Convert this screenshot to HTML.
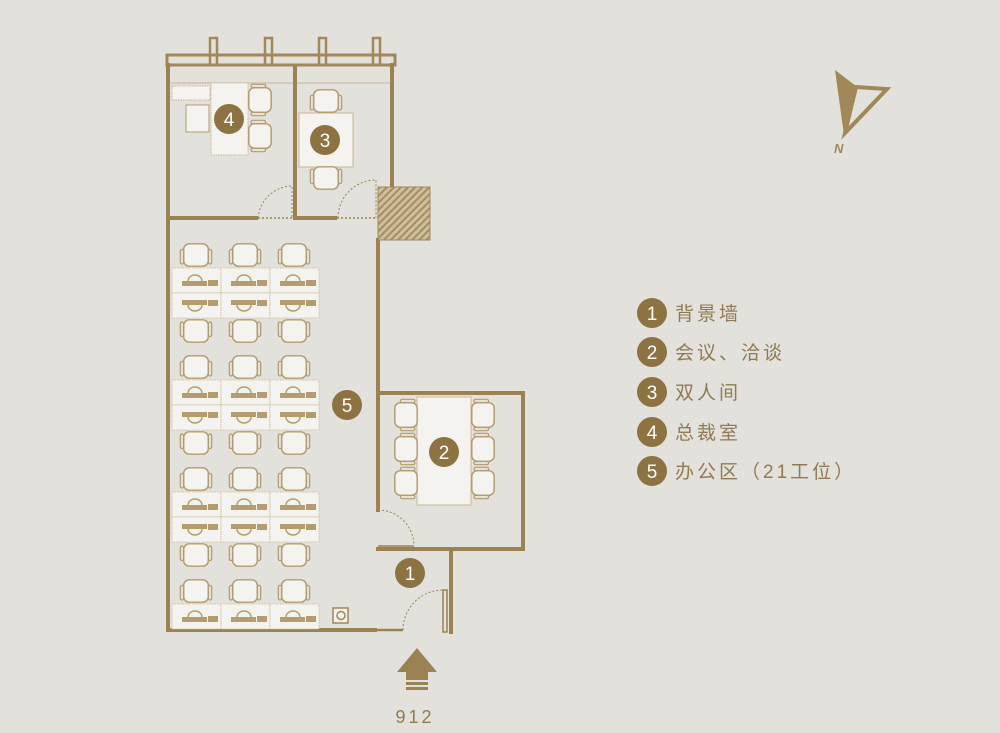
<!DOCTYPE html>
<html><head><meta charset="utf-8"><style>
body{margin:0;background:#e3e1dc;}
svg{display:block}
.t{font-family:"Liberation Sans","Noto Sans CJK SC",sans-serif;}
</style></head><body>
<svg width="1000" height="733" viewBox="0 0 1000 733" xmlns="http://www.w3.org/2000/svg">
<defs>
<g id="ch0">
<rect x="-11" y="-10" width="22" height="20" rx="5" fill="#f4f3f0" stroke="#b49c6e" stroke-width="1.3"/>
<rect x="-14" y="-5" width="3" height="13" rx="1.5" fill="none" stroke="#b49c6e" stroke-width="1.1"/>
<rect x="11" y="-5" width="3" height="13" rx="1.5" fill="none" stroke="#b49c6e" stroke-width="1.1"/>
</g>
<g id="ch"><use href="#ch0" transform="scale(1.12)"/></g>
<g id="dk">
<rect x="0" y="0" width="49" height="25" fill="#f4f3f0" stroke="#c9b890" stroke-width="0.8" stroke-dasharray="1.5 1"/>
<rect x="10" y="13" width="25" height="5" fill="#b49c6e"/>
<path d="M16 13 a7 6 0 0 1 14 0" fill="none" stroke="#b49c6e" stroke-width="1.5"/>
<rect x="36" y="12" width="10" height="6" fill="#b49c6e"/>
</g>
<g id="dk2">
<rect x="0" y="0" width="49" height="25" fill="#f4f3f0" stroke="#c9b890" stroke-width="0.8" stroke-dasharray="1.5 1"/>
<rect x="10" y="7" width="25" height="5" fill="#b49c6e"/>
<path d="M16 12 a7 6 0 0 0 14 0" fill="none" stroke="#b49c6e" stroke-width="1.5"/>
<rect x="36" y="7" width="10" height="6" fill="#b49c6e"/>
</g>
<pattern id="hat" width="5" height="5" patternUnits="userSpaceOnUse" patternTransform="rotate(45)">
<rect width="5" height="5" fill="#cdbf9f"/><rect width="2" height="5" fill="#a88d5c"/>
</pattern>
</defs>

<g fill="none" stroke="#a08858">
<rect x="167" y="55" width="228" height="10" stroke-width="3" fill="#e3e1dc"/>
<rect x="210" y="38" width="7" height="27" stroke-width="2.5"/>
<rect x="265" y="38" width="7" height="27" stroke-width="2.5"/>
<rect x="319" y="38" width="7" height="27" stroke-width="2.5"/>
<rect x="373" y="38" width="7" height="27" stroke-width="2.5"/>
<line x1="170" y1="83" x2="392" y2="83" stroke-width="1" stroke="#c9b890"/>
</g>
<g stroke="#9b8253" stroke-width="4" fill="none" stroke-linecap="square">
<line x1="168" y1="65" x2="168" y2="630"/>
<line x1="168" y1="630" x2="375" y2="630"/>
<line x1="392" y1="65" x2="392" y2="186"/>
<line x1="295" y1="67" x2="295" y2="218"/>
<line x1="168" y1="218" x2="256" y2="218"/>
<line x1="295" y1="218" x2="335" y2="218"/>
<line x1="378" y1="240" x2="378" y2="393"/>
<line x1="378" y1="393" x2="523" y2="393"/>
<line x1="523" y1="393" x2="523" y2="549"/>
<line x1="378" y1="549" x2="523" y2="549"/>
<line x1="378" y1="393" x2="378" y2="510"/>
<line x1="451" y1="549" x2="451" y2="632"/>
</g>
<g stroke="#9b8253" fill="none">
<line x1="375" y1="630" x2="403" y2="630" stroke-width="2.5"/>
<line x1="258" y1="218" x2="292" y2="218" stroke-width="1.5" stroke-dasharray="2 2"/>
<path d="M258 218 A35 35 0 0 1 292 186 L292 218" stroke-width="1" stroke-dasharray="2 2"/>
<line x1="337" y1="218" x2="376" y2="218" stroke-width="1.5" stroke-dasharray="2 2"/>
<path d="M338 218 A38 38 0 0 1 376 180 L376 218" stroke-width="1" stroke-dasharray="2 2"/>
<path d="M378 510 A36 36 0 0 1 414 546" stroke-width="1" stroke-dasharray="2 2"/>
<line x1="378" y1="546" x2="414" y2="546" stroke-width="1.5"/>
<path d="M403 630 A40 40 0 0 1 443 590" stroke-width="1" stroke-dasharray="2 2"/>
<rect x="443" y="590" width="4" height="42" stroke-width="1.5"/>
</g>
<rect x="378" y="187" width="52" height="53" fill="url(#hat)" stroke="#a08858" stroke-width="1"/>

<path d="M172 86 L210 86 L210 100 L172 100 Z" fill="#f4f3f0" stroke="#c9b890" stroke-dasharray="1.5 1"/>
<rect x="211" y="83" width="37" height="72" fill="#f4f3f0" stroke="#c9b890" stroke-dasharray="1.5 1"/>
<rect x="186" y="105" width="23" height="27" fill="#f4f3f0" stroke="#b49c6e"/>
<use href="#ch" transform="translate(260,100) rotate(90)"/>
<use href="#ch" transform="translate(260,136) rotate(90)"/>
<rect x="299" y="113" width="54" height="54" fill="#f4f3f0" stroke="#c9b890"/>
<use href="#ch" transform="translate(326,101)"/>
<use href="#ch" transform="translate(326,178) rotate(180)"/>
<rect x="417" y="397" width="54" height="108" fill="#f4f3f0" stroke="#c9b890"/>
<use href="#ch" transform="translate(406,415) rotate(-90)"/>
<use href="#ch" transform="translate(406,449) rotate(-90)"/>
<use href="#ch" transform="translate(406,483) rotate(-90)"/>
<use href="#ch" transform="translate(483,415) rotate(90)"/>
<use href="#ch" transform="translate(483,449) rotate(90)"/>
<use href="#ch" transform="translate(483,483) rotate(90)"/>

<g id="blk">
<use href="#ch" transform="translate(196,255)"/><use href="#ch" transform="translate(245,255)"/><use href="#ch" transform="translate(294,255)"/>
<use href="#dk" x="172" y="268"/><use href="#dk" x="221" y="268"/><use href="#dk" x="270" y="268"/>
<use href="#dk2" x="172" y="293"/><use href="#dk2" x="221" y="293"/><use href="#dk2" x="270" y="293"/>
<use href="#ch" transform="translate(196,331) rotate(180)"/><use href="#ch" transform="translate(245,331) rotate(180)"/><use href="#ch" transform="translate(294,331) rotate(180)"/>
</g>
<use href="#blk" y="112"/>
<use href="#blk" y="224"/>
<use href="#ch" transform="translate(196,591)"/><use href="#ch" transform="translate(245,591)"/><use href="#ch" transform="translate(294,591)"/>
<use href="#dk" x="172" y="604"/><use href="#dk" x="221" y="604"/><use href="#dk" x="270" y="604"/>
<rect x="333" y="608" width="15" height="15" fill="#f4f3f0" stroke="#a08858" stroke-width="1.5"/>
<circle cx="341" cy="615.5" r="4" fill="none" stroke="#a08858" stroke-width="1.5"/>

<g fill="#8d7341">
<circle cx="229" cy="119" r="15"/><circle cx="325" cy="140" r="15"/><circle cx="444" cy="452" r="15"/>
<circle cx="347" cy="405" r="15"/><circle cx="410" cy="573" r="15"/>
<circle cx="652" cy="313" r="15"/><circle cx="652" cy="352" r="15"/><circle cx="652" cy="392" r="15"/><circle cx="652" cy="432" r="15"/><circle cx="652" cy="471" r="15"/>
</g>
<g class="t" fill="#fff" font-size="19" text-anchor="middle">
<text x="229" y="126">4</text><text x="325" y="147">3</text><text x="444" y="459">2</text>
<text x="347" y="412">5</text><text x="410" y="580">1</text>
<text x="652" y="320">1</text><text x="652" y="359">2</text><text x="652" y="399">3</text><text x="652" y="439">4</text><text x="652" y="478">5</text>
</g>
<g class="t" fill="#8f7a52" font-size="19" letter-spacing="3">
<text x="675" y="320">背景墙</text>
<text x="675" y="359">会议、洽谈</text>
<text x="675" y="399">双人间</text>
<text x="675" y="439">总裁室</text>
<text x="675" y="478">办公区（21工位）</text>
</g>

<polygon points="835,70 856,86 844,135" fill="#a08858"/>
<polygon points="856,87 887,89 845,133" fill="none" stroke="#a08858" stroke-width="4" stroke-linejoin="miter"/>
<text x="834" y="153" class="t" font-size="13" font-weight="bold" font-style="italic" fill="#a08858">N</text>

<polygon points="397,672 417,648 437,672 428,672 428,680 406,680 406,672" fill="#9b8253"/>
<rect x="406" y="682" width="22" height="3" fill="#9b8253"/>
<rect x="406" y="687" width="22" height="3" fill="#9b8253"/>
<text x="415" y="723" class="t" font-size="18" fill="#8f7a52" text-anchor="middle" letter-spacing="3">912</text>
</svg>
</body></html>
